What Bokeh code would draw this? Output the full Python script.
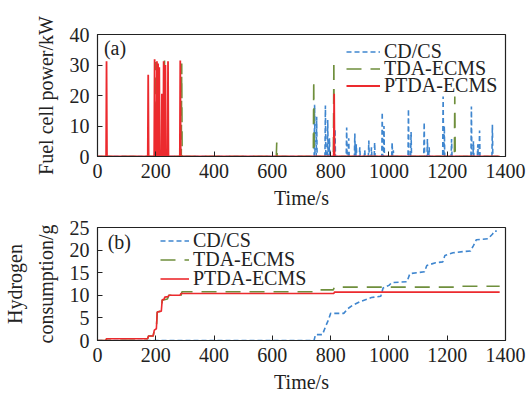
from bokeh.plotting import figure
from bokeh.layouts import column
from bokeh.models import Range1d, FixedTicker, Legend, LegendItem, Label
from bokeh.embed import file_html
from bokeh.resources import INLINE

# ---------------- data ----------------
# (a) fuel cell power spikes (time s, power kW)
red_spike_t = [31, 174, 196, 204, 208, 212, 221, 227, 233, 242, 284, 812]
red_spike_p = [31.2, 26.8, 31.9, 31.2, 30.5, 29.3, 20.6, 31.2, 30.0, 31.2, 31.5, 20.6]
green_spike_t = [200, 230, 289, 615, 742, 811, 1226]
green_spike_p = [31.0, 31.5, 30.5, 4.6, 25.0, 31.5, 19.7]
blue_spike_t = [745, 752, 782, 790, 796, 815, 855, 862, 883, 888, 900, 917, 931, 940, 951,
                977, 983, 1011, 1015, 1067, 1076, 1121, 1132, 1138, 1186, 1190, 1215,
                1283, 1290, 1305, 1311, 1355]
blue_spike_p = [17.0, 13.0, 16.7, 12.0, 6.0, 9.0, 9.5, 6.0, 7.5, 4.0, 3.0, 2.0, 5.2, 3.0, 4.6,
                14.5, 10.0, 4.6, 2.0, 15.6, 8.0, 11.2, 5.7, 3.0, 19.7, 10.0, 5.7,
                16.4, 5.0, 4.0, 8.5, 10.4]
t_end = 1380

# (b) cumulative hydrogen consumption (time s, g)
red_h_t = [0, 29, 31, 172, 175, 191, 195, 202, 205, 219, 222, 228, 231, 242, 245, 283, 286, 811, 813, 1380]
red_h_v = [0, 0, 0.4, 0.4, 1.0, 1.0, 2.3, 2.6, 6.3, 6.5, 9.0, 9.1, 9.6, 9.7, 10.0, 10.0, 10.4, 10.4, 10.7, 10.7]
green_h_t = [0, 29, 31, 172, 175, 191, 195, 202, 205, 219, 222, 240, 245, 287, 290, 740, 744, 809, 813, 1224, 1228, 1380]
green_h_v = [0, 0, 0.4, 0.4, 1.0, 1.0, 2.3, 2.6, 6.3, 6.5, 8.9, 9.2, 10.0, 10.0, 10.8, 10.8, 11.2, 11.2, 11.8, 11.8, 12.0, 12.0]
blue_h_t = [0, 743, 748, 772, 782, 792, 800, 845, 858, 875, 905, 940, 972, 980, 1000, 1010, 1062,
            1072, 1098, 1122, 1130, 1160, 1185, 1192, 1220, 1258, 1280, 1290, 1300, 1340, 1355, 1362, 1370]
blue_h_v = [0, 0, 1.3, 1.3, 3.0, 4.5, 6.0, 6.0, 7.0, 7.8, 8.7, 9.5, 9.8, 11.6, 12.2, 12.8, 13.0,
            14.8, 15.0, 15.2, 16.6, 17.2, 17.4, 18.8, 19.4, 19.7, 19.8, 21.0, 22.3, 22.5, 23.5, 24.2, 24.2]

x_ticks = [0, 200, 400, 600, 800, 1000, 1200, 1400]
ya_ticks = [0, 10, 20, 30, 40]
yb_ticks = [0, 5, 10, 15, 20, 25]

labels = ["CD/CS", "TDA-ECMS", "PTDA-ECMS"]
BLUE, GREEN, RED = "#3f86cf", "#6f8f3c", "#ec2a2e"
FONT = "Liberation Serif"
FS = "20px"
TXT = "#222222"


def spikes(ts, ps):
    xs, ys = [0], [0]
    for t, p in zip(ts, ps):
        xs += [t - 1.5, t, t + 1.5]
        ys += [0, p, 0]
    xs.append(t_end)
    ys.append(0)
    return xs, ys


def style(p, yticks, ylabel):
    p.xaxis.ticker = FixedTicker(ticks=x_ticks)
    p.yaxis.ticker = FixedTicker(ticks=yticks)
    for ax in (p.xaxis[0], p.yaxis[0]):
        ax.major_tick_in = 5
        ax.major_tick_out = 0
        ax.minor_tick_line_color = None
        ax.axis_line_color = TXT
        ax.major_tick_line_color = TXT
        ax.major_label_text_font = FONT
        ax.major_label_text_font_size = FS
        ax.major_label_text_color = TXT
        ax.axis_label_text_font = FONT
        ax.axis_label_text_font_size = FS
        ax.axis_label_text_font_style = "normal"
        ax.axis_label_text_color = TXT
    p.xaxis.axis_label = "Time/s"
    p.yaxis.axis_label = ylabel
    p.xaxis.major_label_standoff = 7
    p.xaxis.axis_label_standoff = 6
    p.yaxis.major_label_standoff = 8
    p.yaxis.axis_label_standoff = 10
    p.xgrid.visible = False
    p.ygrid.visible = False
    p.outline_line_color = TXT
    p.outline_line_width = 1.2
    p.background_fill_color = "white"
    p.border_fill_color = "white"


def add_legend(p, rends, vx, vys, gw):
    # one single-row legend per series, so the row pitch can be set freely
    for r, lab, vy in zip(rends, labels, vys):
        lg = Legend(items=[LegendItem(label=lab, renderers=[r])], location=(vx, vy),
                    border_line_color=None, background_fill_alpha=0, padding=0, margin=0,
                    spacing=0, glyph_width=gw, glyph_height=17, label_height=17,
                    label_standoff=4, label_text_font=FONT, label_text_font_size=FS,
                    label_text_color=TXT)
        p.add_layout(lg)


# ---------------- (a) ----------------
pa = figure(width=529, height=212, output_backend="svg", toolbar_location=None,
            x_range=Range1d(0, 1400), y_range=Range1d(0, 40),
            min_border_left=92, min_border_right=24, min_border_top=34, min_border_bottom=56)
style(pa, ya_ticks, "Fuel cell power/kW")
bx, by = spikes(blue_spike_t, blue_spike_p)
gx, gy = spikes(green_spike_t, green_spike_p)
rx, ry = spikes(red_spike_t, red_spike_p)
ra_b = pa.line(bx, by, color=BLUE, line_width=1.6, line_dash="5 3")
ra_g = pa.line(gx, gy, color=GREEN, line_width=1.6, line_dash="15 9")
ra_r = pa.line(rx, ry, color=RED, line_width=1.8)
add_legend(pa, [ra_b, ra_g, ra_r], 249, [93, 76, 59], 34)
pa.add_layout(Label(x=22, y=35.5, text="(a)", text_font=FONT, text_font_size=FS,
                    text_baseline="middle", text_color=TXT))

# ---------------- (b) ----------------
pb = figure(width=529, height=184, output_backend="svg", toolbar_location=None,
            x_range=Range1d(0, 1400), y_range=Range1d(0, 25),
            min_border_left=92, min_border_right=24, min_border_top=15, min_border_bottom=56)
style(pb, yb_ticks, "Hydrogen\nconsumption/g")
pb.yaxis.axis_label_text_line_height = 1.4
rb_b = pb.line(blue_h_t, blue_h_v, color=BLUE, line_width=1.6, line_dash="5 3")
rb_g = pb.line(green_h_t, green_h_v, color=GREEN, line_width=1.6, line_dash="15 9")
rb_r = pb.line(red_h_t, red_h_v, color=RED, line_width=1.6)
add_legend(pb, [rb_b, rb_g, rb_r], 63, [88, 69, 50], 29)
pb.add_layout(Label(x=35, y=21.8, text="(b)", text_font=FONT, text_font_size=FS,
                    text_baseline="middle", text_color=TXT))

layout = column(pa, pb, spacing=0)
open("out.html", "w").write(file_html(layout, INLINE))
